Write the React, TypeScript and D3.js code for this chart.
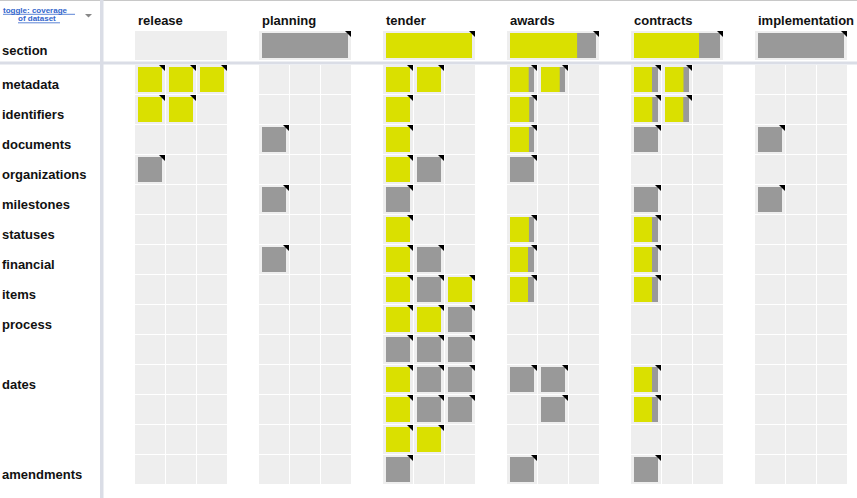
import React from "react";
import * as d3 from "d3";

const N = null;

const sections = ["release", "planning", "tender", "awards", "contracts", "implementation"];
const rowLabels = [
  "metadata", "identifiers", "documents", "organizations", "milestones", "statuses",
  "financial", "items", "process", "", "dates", "", "", "amendments",
];
const headerCoverage: (number | null)[] = [N, 0, 1, 0.78, 0.756, 0];

const releaseCells = [
  [1, 1, 1], [1, 1, N], [N, N, N], [0, N, N], [N, N, N], [N, N, N], [N, N, N],
  [N, N, N], [N, N, N], [N, N, N], [N, N, N], [N, N, N], [N, N, N], [N, N, N],
];
const planningCells = [
  [N, N, N], [N, N, N], [0, N, N], [N, N, N], [0, N, N], [N, N, N], [0, N, N],
  [N, N, N], [N, N, N], [N, N, N], [N, N, N], [N, N, N], [N, N, N], [N, N, N],
];
const tenderCells = [
  [1, 1, N], [1, N, N], [1, N, N], [1, 0, N], [0, N, N], [1, N, N], [1, 0, N],
  [1, 0, 1], [1, 1, 0], [0, 0, 0], [1, 0, 0], [1, 0, 0], [1, 1, N], [0, N, N],
];
const awardsCells = [
  [0.78, 0.78, N], [0.8, N, N], [0.79, N, N], [0, N, N], [N, N, N], [0.79, N, N], [0.75, N, N],
  [0.75, N, N], [N, N, N], [N, N, N], [0, 0, N], [N, 0, N], [N, N, N], [0, N, N],
];
const contractsCells = [
  [0.75, 0.77, N], [0.76, 0.76, N], [0, N, N], [N, N, N], [0, N, N], [0.75, N, N], [0.75, N, N],
  [0.75, N, N], [N, N, N], [N, N, N], [0.75, N, N], [0.75, N, N], [N, N, N], [0, N, N],
];
const implementationCells = [
  [N, N, N], [N, N, N], [0, N, N], [N, N, N], [0, N, N], [N, N, N], [N, N, N],
  [N, N, N], [N, N, N], [N, N, N], [N, N, N], [N, N, N], [N, N, N], [N, N, N],
];

const cellsBySection = [releaseCells, planningCells, tenderCells, awardsCells, contractsCells, implementationCells];

const W = 857;
const H = 498;
const YELLOW = "#dae000";
const GRAY = "#999999";
const BG = "#eeeeee";
const SEP = "#dadde6";
const FONT = "'Liberation Sans', Arial, sans-serif";

const xSection = d3.scaleBand<string>().domain(sections).range([135, 135 + 124 * sections.length]);
const xCell = d3.scaleLinear().domain([0, 1]).range([0, 31]);
const yRow = d3.scaleBand<number>().domain(d3.range(rowLabels.length)).range([65, 65 + 30 * rowLabels.length]);
const cover = d3.scaleLinear().domain([0, 1]);

function Mark({ x, y, w, h, v }: { x: number; y: number; w: number; h: number; v: number }) {
  const mw = w - 6;
  const mh = h - 4;
  const yw = cover.range([0, mw])(v);
  return (
    <g>
      <rect x={x + 3} y={y + 2} width={mw} height={mh} fill={GRAY} />
      {yw > 0 && <rect x={x + 3} y={y + 2} width={yw} height={mh} fill={YELLOW} />}
      <path d={`M${x + w - 6},${y}L${x + w},${y}L${x + w},${y + 6}Z`} fill="#000" />
    </g>
  );
}

export default function App() {
  return (
    <div style={{ position: "fixed", left: 0, top: 0 }}>
      <svg width={W} height={H} style={{ display: "block", fontFamily: FONT }}>
        <rect x={0} y={0} width={W} height={H} fill="#fff" />
        <line x1={0} x2={W} y1={0.5} y2={0.5} stroke="#c8c8c8" strokeWidth={1} />
        <rect x={100} y={0} width={3.5} height={H} fill={SEP} />
        <rect x={0} y={61.5} width={W} height={3} fill={SEP} />

        {/* toggle */}
        <text x={3} y={12.5} fontSize={8} fontWeight="bold" fill="#3366cc" fontFamily={FONT}>toggle: coverage</text>
        <line x1={3} x2={75} y1={14.3} y2={14.3} stroke="#3366cc" strokeWidth={0.8} />
        <text x={18} y={21} fontSize={8} fontWeight="bold" fill="#3366cc" fontFamily={FONT}>of dataset</text>
        <line x1={18} x2={60} y1={22.8} y2={22.8} stroke="#3366cc" strokeWidth={0.8} />
        <path d="M85,14L92,14L88.5,17.5Z" fill="#888" />

        <text x={2} y={55} fontSize={13} fontWeight="bold" fill="#111">section</text>
        {rowLabels.map((l, i) => (
          <text key={i} x={2} y={(yRow(i) ?? 0) + 24} fontSize={13} fontWeight="bold" fill="#111">{l}</text>
        ))}

        {sections.map((s, si) => {
          const x0 = xSection(s) ?? 0;
          const hv = headerCoverage[si];
          const bw = xCell(3) - 1;
          return (
            <g key={s}>
              <text x={x0 + 3} y={25} fontSize={13} fontWeight="bold" fill="#111">{s}</text>
              <rect x={x0} y={31} width={bw} height={29} fill={BG} />
              {hv !== null && <Mark x={x0} y={31} w={bw} h={29} v={hv} />}
              {cellsBySection[si].map((row, ri) =>
                row.map((v, ci) => {
                  const cx = x0 + xCell(ci);
                  const cy = yRow(ri) ?? 0;
                  return (
                    <g key={`${ri}-${ci}`}>
                      <rect x={cx} y={cy} width={30} height={yRow.bandwidth() - 1} fill={BG} />
                      {v !== null && <Mark x={cx} y={cy} w={30} h={yRow.bandwidth() - 1} v={v} />}
                    </g>
                  );
                })
              )}
            </g>
          );
        })}
      </svg>
    </div>
  );
}
